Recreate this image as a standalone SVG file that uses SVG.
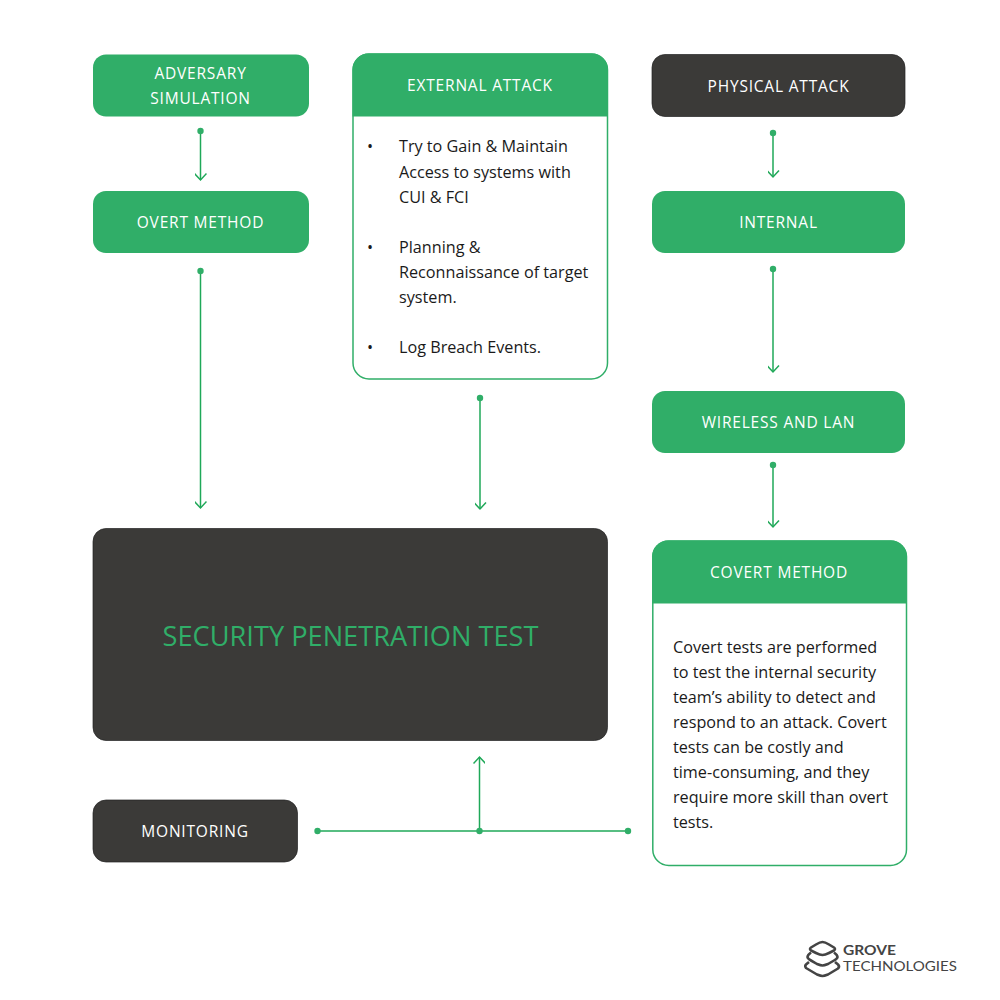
<svg xmlns="http://www.w3.org/2000/svg" width="1000" height="1000" viewBox="0 0 1000 1000">
<defs>
<style>
text{font-family:"Open Sans","Noto Sans",sans-serif}
.g{fill:#30ae68}.d{fill:#3b3a38;stroke:#222;stroke-width:.7}
.t{fill:#fff;font-size:15.5px;text-anchor:middle;letter-spacing:.8px}
.b{fill:#1a1a1a;font-size:16.2px}
.c{fill:none;stroke:#1fa858;stroke-width:1.5}
.dot{fill:#30ae68}
.o{fill:#fff;stroke:#30ae68;stroke-width:1.5}
.lg{font-family:Lato,sans-serif;fill:#444}
</style>
<marker id="ah" markerUnits="userSpaceOnUse" markerWidth="16" markerHeight="12" refX="13.500" refY="6.500" orient="auto"><path d="M7 0.500L13.500 6.500L7 12.500" fill="none" stroke="#1fa858" stroke-width="1.500"/></marker>
</defs>
<rect width="1000" height="1000" fill="#fff"/>
<g id="connectors">
<path class="c" marker-end="url(#ah)" d="M200.500 131V180"/><circle class="dot" cx="200.500" cy="131" r="3.200"/>
<path class="c" marker-end="url(#ah)" d="M200.500 271V508"/><circle class="dot" cx="200.500" cy="271" r="3.200"/>
<path class="c" marker-end="url(#ah)" d="M480 398V509"/><circle class="dot" cx="480" cy="398" r="3.200"/>
<path class="c" marker-end="url(#ah)" d="M773 133V177"/><circle class="dot" cx="773" cy="133" r="3.200"/>
<path class="c" marker-end="url(#ah)" d="M773 269V372"/><circle class="dot" cx="773" cy="269" r="3.200"/>
<path class="c" marker-end="url(#ah)" d="M773 465V527"/><circle class="dot" cx="773" cy="465" r="3.200"/>
<path class="c" marker-end="url(#ah)" d="M479.500 831V757"/>
<path class="c" d="M317.500 831H628"/>
<circle class="dot" cx="317.500" cy="831" r="3.200"/><circle class="dot" cx="479.500" cy="831" r="3.200"/><circle class="dot" cx="628" cy="831" r="3.200"/>
</g>
<g id="adversary"><rect class="g" x="93" y="54.500" width="216" height="62" rx="13"/><text class="t" x="200.500" y="79">ADVERSARY</text><text class="t" x="200.500" y="104">SIMULATION</text></g>
<g id="overt"><rect class="g" x="93" y="191" width="216" height="62" rx="13"/><text class="t" x="200.500" y="228">OVERT METHOD</text></g>
<g id="external">
<rect class="o" x="353" y="54" width="254.500" height="325" rx="16"/>
<path class="g" d="M369 53.500H592A16 16 0 0 1 608 69.500V116.500H352.500V69.500A16 16 0 0 1 369 53.500Z"/>
<text class="t" x="480" y="91">EXTERNAL ATTACK</text>
<text class="b" x="367" y="152">•</text><text class="b" x="399" y="152">Try to Gain &amp; Maintain</text>
<text class="b" x="399" y="178">Access to systems with</text><text class="b" x="399" y="203">CUI &amp; FCI</text>
<text class="b" x="367" y="253">•</text><text class="b" x="399" y="253">Planning &amp;</text>
<text class="b" x="399" y="278">Reconnaissance of target</text><text class="b" x="399" y="303">system.</text>
<text class="b" x="367" y="353">•</text><text class="b" x="399" y="353">Log Breach Events.</text>
</g>
<g id="physical"><rect class="d" x="652" y="54.500" width="253" height="62" rx="13"/><text class="t" x="778.500" y="92">PHYSICAL ATTACK</text></g>
<g id="internal"><rect class="g" x="652" y="191" width="253" height="62" rx="13"/><text class="t" x="778.500" y="228">INTERNAL</text></g>
<g id="wireless"><rect class="g" x="652" y="391" width="253" height="62" rx="13"/><text class="t" x="778.500" y="428">WIRELESS AND LAN</text></g>
<g id="security"><rect class="d" x="93" y="528.500" width="514.500" height="212" rx="13"/><text x="350.500" y="646" text-anchor="middle" font-size="27.200" fill="#30ae68">SECURITY PENETRATION TEST</text></g>
<g id="covert">
<rect class="o" x="652.800" y="541" width="253.700" height="324.500" rx="16"/>
<path class="g" d="M668 540.500H891A16 16 0 0 1 907 556.500V603.500H652V556.500A16 16 0 0 1 668 540.500Z"/>
<text class="t" x="779" y="578">COVERT METHOD</text>
<text class="b" x="673" y="653">Covert tests are performed</text>
<text class="b" x="673" y="678">to test the internal security</text>
<text class="b" x="673" y="703">team’s ability to detect and</text>
<text class="b" x="673" y="728">respond to an attack. Covert</text>
<text class="b" x="673" y="753">tests can be costly and</text>
<text class="b" x="673" y="778">time-consuming, and they</text>
<text class="b" x="673" y="803">require more skill than overt</text>
<text class="b" x="673" y="828">tests.</text>
</g>
<g id="monitoring"><rect class="d" x="93" y="800" width="204.500" height="62" rx="13"/><text class="t" x="195" y="837">MONITORING</text></g>
<g id="logo">
<g fill="none" stroke="#444" stroke-width="2.600" stroke-linejoin="round">
<path d="M816 944.500Q820 942 822.500 942Q825 942 829 944.500L834 947.500Q836 949 834 950.500L829 953Q825 955 822.500 955Q820 955 816 953L811 950.500Q809 949 811 947.500Z"/>
<path d="M811 952.500Q807.500 955 807.500 957Q807.500 958.500 811 960.500L817 964Q821 965.500 822.500 965.500Q824 965.500 828 964L834 960.500Q837.500 958.500 837.500 957Q837.500 955 834 952.500"/>
<path d="M809 962L806 964.500Q804.500 966 806 968L817 974.500Q821 976 822.500 976Q824 976 828 974.500L838 968.500Q840 966.500 838 964.500L835 962"/>
</g>
<text class="lg" x="843" y="954.500" font-size="14" font-weight="700" textLength="53" lengthAdjust="spacingAndGlyphs">GROVE</text>
<text class="lg" x="843" y="970.500" font-size="13" textLength="114" lengthAdjust="spacingAndGlyphs">TECHNOLOGIES</text>
</g>
</svg>
